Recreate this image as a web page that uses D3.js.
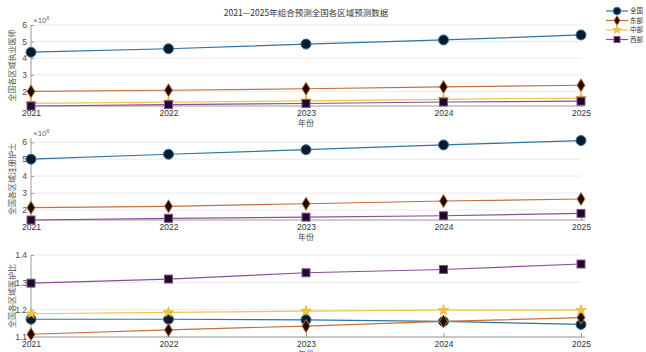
<!DOCTYPE html>
<html>
<head>
<meta charset="utf-8">
<script src="https://cdn.jsdelivr.net/npm/d3@7/dist/d3.min.js"></script>
<style>
  html, body { margin: 0; padding: 0; background: #fff; }
  svg { display: block; }
</style>
</head>
<body>
<svg id="chart" width="646" height="352"></svg>
<script>
// Forecast years
const years = [2021, 2022, 2023, 2024, 2025];
const regionNames = ["全国", "东部", "中部", "西部"];

// Licensed physicians (persons)
const doctorsNational = [4.36e6, 4.57e6, 4.85e6, 5.10e6, 5.40e6];
const doctorsEast     = [2.00e6, 2.07e6, 2.16e6, 2.27e6, 2.37e6];
const doctorsCentral  = [1.28e6, 1.35e6, 1.43e6, 1.52e6, 1.60e6];
const doctorsWest     = [1.12e6, 1.20e6, 1.27e6, 1.36e6, 1.41e6];

// Registered nurses (persons)
const nursesNational = [5.00e6, 5.29e6, 5.56e6, 5.84e6, 6.10e6];
const nursesEast     = [2.14e6, 2.22e6, 2.37e6, 2.53e6, 2.65e6];
const nursesWest     = [1.41e6, 1.51e6, 1.58e6, 1.66e6, 1.80e6];

// Nurse-to-physician ratio
const ratioNational = [1.165, 1.165, 1.163, 1.157, 1.146];
const ratioEast     = [1.110, 1.126, 1.140, 1.157, 1.171];
const ratioCentral  = [1.185, 1.190, 1.195, 1.198, 1.198];
const ratioWest     = [1.297, 1.312, 1.335, 1.347, 1.367];

// Axis tick values
const countTicks = [2e6, 3e6, 4e6, 5e6, 6e6];
const ratioTicks = [1.1, 1.2, 1.3, 1.4];

const titleText = "2021—2025年组合预测全国各区域预测数据";
const xLabelText = "年份";

const styles = {
  "全国": { line: "#2f74a2", fill: "#0c1b2b", edge: "#2f74a2", shape: "circle" },
  "东部": { line: "#c46f3c", fill: "#1d0c02", edge: "#c46f3c", shape: "diamond" },
  "中部": { line: "#eec54a", fill: "#f2c640", edge: "#d9a72a", shape: "star" },
  "西部": { line: "#8a4f97", fill: "#1c0c26", edge: "#8a4f97", shape: "square" }
};

const panels = [
  {
    ylabel: "全国各区域执业医师", top: 25, bottom: 106, domain: [1.12e6, 6e6], ticks: countTicks, exp: true,
    series: [["全国", doctorsNational], ["东部", doctorsEast], ["中部", doctorsCentral], ["西部", doctorsWest]]
  },
  {
    ylabel: "全国各区域注册护士", top: 138, bottom: 220, domain: [1.41e6, 6.25e6], ticks: countTicks, exp: true,
    series: [["全国", nursesNational], ["东部", nursesEast], ["西部", nursesWest]]
  },
  {
    ylabel: "全国各区域医护比", top: 255, bottom: 337, domain: [1.1, 1.4], ticks: ratioTicks, exp: false,
    series: [["全国", ratioNational], ["东部", ratioEast], ["中部", ratioCentral], ["西部", ratioWest]]
  }
];

const svg = d3.select("#chart");
const sans = "'Liberation Sans', Arial, sans-serif";
const cjk = "'Noto Sans CJK SC', sans-serif";

const x = d3.scaleLinear().domain([2021, 2025]).range([31, 581]);

function drawMarker(g, name, cx, cy, k) {
  const s = styles[name];
  k = k || 1;
  if (s.shape === "circle") {
    g.append("circle").attr("cx", cx).attr("cy", cy).attr("r", 5 * k)
      .attr("fill", s.fill).attr("stroke", s.edge).attr("stroke-width", 1);
  } else if (s.shape === "diamond") {
    const w = 4 * k, h = 6.5 * k;
    g.append("path")
      .attr("d", `M${cx},${cy - h}L${cx + w},${cy}L${cx},${cy + h}L${cx - w},${cy}Z`)
      .attr("fill", s.fill).attr("stroke", s.edge).attr("stroke-width", 1);
  } else if (s.shape === "star") {
    g.append("path")
      .attr("d", d3.symbol().type(d3.symbolStar).size(36 * k * k)())
      .attr("transform", `translate(${cx},${cy})`)
      .attr("fill", s.fill).attr("stroke", s.edge).attr("stroke-width", 0.6);
  } else {
    const h = 4 * k;
    g.append("rect").attr("x", cx - h).attr("y", cy - h).attr("width", 2 * h).attr("height", 2 * h)
      .attr("fill", s.fill).attr("stroke", s.edge).attr("stroke-width", 1);
  }
}

panels.forEach(p => {
  const y = d3.scaleLinear().domain(p.domain).range([p.bottom, p.top]);
  const g = svg.append("g");

  // horizontal grid
  g.selectAll(null).data(p.ticks).enter().append("line")
    .attr("x1", x(2021)).attr("x2", x(2025))
    .attr("y1", d => y(d)).attr("y2", d => y(d))
    .attr("stroke", "#ebebeb").attr("stroke-width", 1);

  // y axis (inward ticks)
  const yAxis = d3.axisRight(y).tickValues(p.ticks).tickSize(3)
    .tickFormat(d => p.exp ? d3.format("d")(d / 1e6) : d3.format(".1f")(d));
  const ya = g.append("g").attr("transform", `translate(${x(2021)},0)`).call(yAxis);
  ya.select(".domain").attr("stroke", "#9a9a9a").attr("d", `M0,${p.top}V${p.bottom}`);
  ya.selectAll(".tick line").attr("stroke", "#9a9a9a");
  ya.selectAll(".tick text").attr("x", -4).attr("text-anchor", "end")
    .attr("fill", "#4a4a4a").style("font-family", sans).style("font-size", "8.5px");

  // x axis (inward ticks)
  const xAxis = d3.axisTop(x).tickValues(years).tickSize(4).tickFormat(d3.format("d"));
  const xa = g.append("g").attr("transform", `translate(0,${p.bottom})`).call(xAxis);
  xa.select(".domain").attr("stroke", "#9a9a9a").attr("d", `M${x(2021)},0H${x(2025) + 4}`);
  xa.selectAll(".tick line").attr("stroke", "#9a9a9a");
  xa.selectAll(".tick text").attr("y", 10).attr("dy", "0")
    .attr("fill", "#333").style("font-family", sans).style("font-size", "8.5px");

  // exponent label
  if (p.exp) {
    const t = g.append("text").attr("x", 33).attr("y", p.top - 2)
      .attr("fill", "#666").style("font-family", sans).style("font-size", "8px");
    t.append("tspan").text("×10");
    t.append("tspan").attr("dy", -3).style("font-size", "5.5px").text("6");
  }

  // axis titles
  g.append("text").attr("x", x(2023)).attr("y", p.bottom + 20)
    .attr("text-anchor", "middle").attr("fill", "#444")
    .style("font-family", cjk).style("font-size", "8px").text(xLabelText);
  g.append("text")
    .attr("transform", `translate(15,${(p.top + p.bottom) / 2}) rotate(-90)`)
    .attr("text-anchor", "middle").attr("fill", "#555")
    .style("font-family", cjk).style("font-size", "8px").text(p.ylabel);

  // series lines and markers
  const line = d3.line().x((d, i) => x(years[i])).y(d => y(d));
  p.series.forEach(([name, vals]) => {
    g.append("path").attr("d", line(vals)).attr("fill", "none")
      .attr("stroke", styles[name].line).attr("stroke-width", 1.2);
    vals.forEach((v, i) => drawMarker(g, name, x(years[i]), y(v)));
  });
});

// title
svg.append("text").attr("x", x(2023)).attr("y", 16).attr("text-anchor", "middle")
  .attr("fill", "#333").style("font-family", cjk).style("font-size", "8.5px").text(titleText);

// legend
const legend = svg.append("g");
regionNames.forEach((name, i) => {
  const ly = 11 + i * 9.5;
  legend.append("line").attr("x1", 606).attr("x2", 628).attr("y1", ly).attr("y2", ly)
    .attr("stroke", styles[name].line).attr("stroke-width", 1.2);
  drawMarker(legend, name, 617, ly, 0.75);
  legend.append("text").attr("x", 630).attr("y", ly + 2.3)
    .attr("fill", "#333").style("font-family", cjk).style("font-size", "6.5px").text(name);
});
</script>
</body>
</html>
